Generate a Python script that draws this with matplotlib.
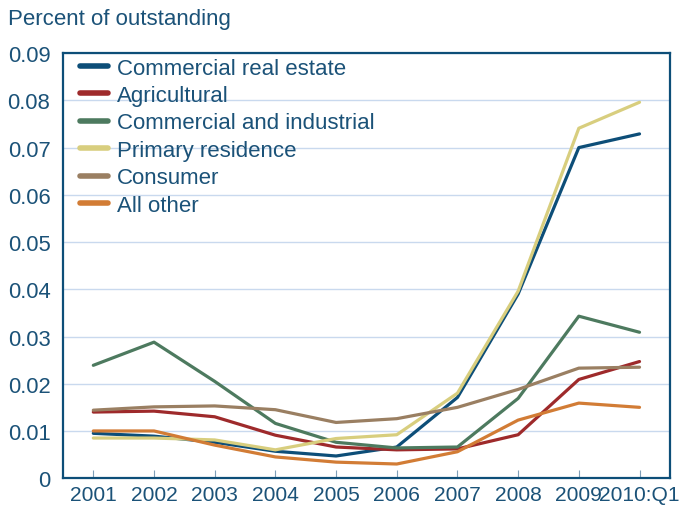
import numpy as np
import matplotlib.pyplot as plt

plt.rcParams['font.family'] = ['Liberation Sans', 'DejaVu Sans']

years = ['2001', '2002', '2003', '2004', '2005', '2006', '2007', '2008', '2009', '2010:Q1']
cre = [0.0095, 0.0089, 0.0076, 0.0057, 0.0047, 0.0066, 0.0171, 0.0390, 0.0700, 0.0729]
agri = [0.0140, 0.0142, 0.0130, 0.0091, 0.0066, 0.0060, 0.0062, 0.0092, 0.0209, 0.0247]
cni = [0.0239, 0.0288, 0.0205, 0.0116, 0.0076, 0.0064, 0.0066, 0.0169, 0.0343, 0.0309]
resid = [0.0085, 0.0085, 0.0081, 0.0060, 0.0084, 0.0092, 0.0180, 0.0396, 0.0741, 0.0796]
consumer = [0.0144, 0.0151, 0.0153, 0.0145, 0.0118, 0.0126, 0.0150, 0.0188, 0.0233, 0.0235]
other = [0.0100, 0.0100, 0.0070, 0.0045, 0.0034, 0.0030, 0.0056, 0.0123, 0.0159, 0.0150]

txt = '#1b5278'
x = np.arange(len(years))

fig = plt.figure(figsize=(6.92, 5.06), dpi=100)
ax = fig.add_axes([0.091, 0.053, 0.877, 0.840])

series = [(cre, 'Commercial real estate', '#0d4e78'),
          (agri, 'Agricultural', '#9e2a2b'),
          (cni, 'Commercial and industrial', '#4d7a5f'),
          (resid, 'Primary residence', '#d8ce7e'),
          (consumer, 'Consumer', '#9a7f62'),
          (other, 'All other', '#d27c35')]
for vals, lab, col in series:
    ax.plot(x, vals, color=col, lw=2.3, label=lab, solid_capstyle='round')

ax.set_xlim(-0.5, 9.5)
ax.set_ylim(0, 0.09)
ax.set_yticks(np.arange(0, 0.091, 0.01))
ax.set_yticklabels(['0'] + ['%.2f' % v for v in np.arange(0.01, 0.091, 0.01)])
ax.set_xticks(x)
ax.set_xticklabels(years)
ax.yaxis.grid(True, color='#c9d9ee', lw=1)
ax.set_axisbelow(True)
for s in ax.spines.values():
    s.set_color('#0d4e78')
    s.set_linewidth(1.6)
ax.tick_params(axis='y', length=0, pad=9, labelsize=15.8, labelcolor=txt)
ax.tick_params(axis='x', direction='in', length=6, color='#7f9fb8', pad=5, labelsize=15.1, labelcolor=txt)

leg = ax.legend(loc='upper left', frameon=False, fontsize=16, handlelength=1.3,
                handletextpad=0.4, labelspacing=0.29, borderaxespad=0.0, borderpad=0.2,
                bbox_to_anchor=(0.02, 1.0))
for t in leg.get_texts():
    t.set_color(txt)
for h in leg.get_lines():
    h.set_linewidth(4)

fig.text(0.012, 0.962, 'Percent of outstanding', fontsize=16, color=txt, va='center')

fig.savefig('out.png', dpi=100)
